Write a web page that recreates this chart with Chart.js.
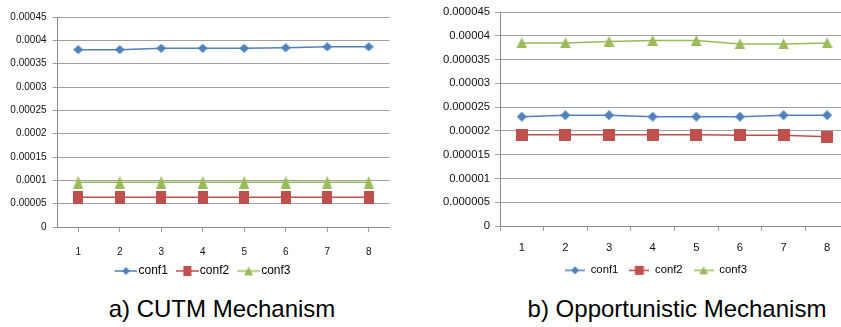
<!DOCTYPE html>
<html>
<head>
<meta charset="utf-8">
<script src="https://cdn.jsdelivr.net/npm/chart.js@4.4.1/dist/chart.umd.min.js"></script>
<style>
    body { margin: 0; background: #fff; width: 841px; height: 327px; overflow: hidden; position: relative; font-family: "Liberation Sans", Arial, sans-serif; }
    .box { position: absolute; top: 0; overflow: hidden; }
    #left { left: 0; width: 415px; height: 292px; }
    #right { left: 430px; width: 411px; height: 292px; }
    .cap { position: absolute; top: 297px; font-size: 24px; line-height: 24px; white-space: nowrap; color: #000; transform: translateX(-50%); }
</style>
</head>
<body>
<div class="box" id="left"><canvas id="cutm" width="396" height="287"></canvas></div>
<div class="box" id="right"><canvas id="opp" width="441" height="286"></canvas></div>
<div class="cap" style="left:222px">a) CUTM Mechanism</div>
<div class="cap" style="left:677px">b) Opportunistic Mechanism</div>
<script>
// two excel style line charts, side by side

const runs = ['1', '2', '3', '4', '5', '6', '7', '8'];
const seriesNames = ['conf1', 'conf2', 'conf3'];

// a) CUTM
const cutmConf1 = [0.000380, 0.000380, 0.000383, 0.000383, 0.000383, 0.000384, 0.000386, 0.000386];
const cutmConf2 = [0.000064, 0.000064, 0.000064, 0.000064, 0.000064, 0.000064, 0.000064, 0.000064];
const cutmConf3 = [0.000096, 0.000096, 0.000096, 0.000096, 0.000096, 0.000096, 0.000096, 0.000096];
const cutmYLabels = ['0', '0.00005', '0.0001', '0.00015', '0.0002', '0.00025', '0.0003', '0.00035', '0.0004', '0.00045'];

// b) Opportunistic
const oppConf1 = [0.0000230, 0.0000233, 0.0000233, 0.0000230, 0.0000230, 0.0000230, 0.0000233, 0.0000233];
const oppConf2 = [0.0000192, 0.0000192, 0.0000192, 0.0000192, 0.0000192, 0.0000191, 0.0000191, 0.0000188];
const oppConf3 = [0.0000385, 0.0000385, 0.0000388, 0.0000390, 0.0000390, 0.0000383, 0.0000383, 0.0000385];
const oppYLabels = ['0', '0.000005', '0.00001', '0.000015', '0.00002', '0.000025', '0.00003', '0.000035', '0.00004', '0.000045'];

const colors = ['#4F81BD', '#C0504D', '#9BBB59'];
const shapes = ['diamond', 'square', 'triangle'];
const gridColor = '#a0a0a0';
const axisColor = '#8c8c8c';

Chart.defaults.font.family = '"Liberation Sans", Arial, sans-serif';
Chart.defaults.animation = false;

function shapePath(g, shape, x, y, w, h) {
    g.beginPath();
    if (shape == 'diamond') {
        g.moveTo(x + w / 2, y);
        g.lineTo(x + w, y + h / 2);
        g.lineTo(x + w / 2, y + h);
        g.lineTo(x, y + h / 2);
    } else if (shape == 'square') {
        g.rect(x, y, w, h);
    } else {
        g.moveTo(x + w / 2, y);
        g.lineTo(x + w, y + h);
        g.lineTo(x, y + h);
    }
    g.closePath();
}

function marker(shape, w, h, color) {
    let c = document.createElement('canvas');
    c.width = w;
    c.height = h;
    let g = c.getContext('2d');
    g.fillStyle = color;
    shapePath(g, shape, 0, 0, w, h);
    g.fill();
    return c;
}

// line sample with the marker in the middle, like the excel legend
// (sx = where the sample starts inside the image, it is centred on the legend box)
function legendIcon(shape, imgW, sx, sw, mw, mh, color) {
    let c = document.createElement('canvas');
    c.width = imgW;
    c.height = mh + 2;
    let g = c.getContext('2d');
    g.strokeStyle = color;
    g.lineWidth = 1.5;
    g.beginPath();
    g.moveTo(sx, c.height / 2);
    g.lineTo(sx + sw, c.height / 2);
    g.stroke();
    g.fillStyle = color;
    shapePath(g, shape, sx + (sw - mw) / 2, 1, mw, mh);
    g.fill();
    return c;
}

function makeChart(id, values, yLabels, yMax, step, cfg) {
    let icons = [];
    let datasets = [];
    for (var i = 0; i < values.length; i++) {
        let m = cfg.markers[i];
        let im = cfg.iconMarkers[i];
        icons.push(legendIcon(shapes[i], cfg.icon[0], cfg.icon[1], cfg.icon[2], im[0], im[1], colors[i]));
        datasets.push({
            label: seriesNames[i],
            data: values[i],
            borderColor: colors[i],
            backgroundColor: colors[i],
            borderWidth: 1.5,
            tension: 0,
            pointRadius: 5,
            pointStyle: marker(shapes[i], m[0], m[1], colors[i])
        });
    }
    let font = { size: cfg.fontSize };
    let scales = {
        x: {
            offset: true,
            afterFit: function (s) { s.height = cfg.xHeight; },
            grid: { drawOnChartArea: false, tickLength: 5, color: gridColor, offset: cfg.gridOffset },
            border: { color: axisColor },
            ticks: { padding: cfg.xPad, color: '#111', font: font, maxRotation: 0 }
        },
        y: {
            min: 0,
            max: yMax,
            afterFit: function (s) { s.width = cfg.yWidth; },
            grid: { tickLength: 5, color: gridColor },
            border: { color: axisColor },
            ticks: {
                stepSize: step,
                padding: cfg.yPad,
                color: '#111',
                font: font,
                callback: function (v) {
                    let hit = yLabels.find(s => Math.abs(Number(s) - v) < step / 1000);
                    return hit === undefined ? '' : hit;
                }
            }
        }
    };
    if (cfg.rightGap > 0) {
        // empty box on the right, only there so the legend centres like the original
        scales.gap = {
            type: 'linear', position: 'right', display: true,
            grid: { display: false }, border: { display: false }, ticks: { display: false },
            afterFit: function (s) { s.width = cfg.rightGap; }
        };
    }
    return new Chart(document.getElementById(id), {
        type: 'line',
        data: { labels: runs, datasets: datasets },
        options: {
            responsive: false,
            layout: { padding: cfg.padding },
            scales: scales,
            plugins: {
                tooltip: { enabled: false },
                legend: {
                    position: 'bottom',
                    labels: {
                        usePointStyle: true,
                        pointStyleWidth: cfg.boxWidth,
                        padding: cfg.legendPad,
                        color: '#000',
                        font: { size: cfg.legendFont },
                        generateLabels: function (chart) {
                            let items = Chart.defaults.plugins.legend.labels.generateLabels(chart);
                            items.forEach((it, i) => { it.pointStyle = icons[i]; });
                            return items;
                        }
                    }
                }
            }
        }
    });
}

makeChart('cutm', [cutmConf1, cutmConf2, cutmConf3], cutmYLabels, 0.00045, 0.00005, {
    padding: { left: 10, right: 0, top: 17, bottom: 0 },
    yWidth: 47.5, yPad: 6, xHeight: 29, xPad: 14, gridOffset: false, rightGap: 0,
    fontSize: 10, legendFont: 12, legendPad: 9, boxWidth: 17, icon: [27, 4, 23],
    markers: [[10, 9], [10, 13], [10, 13]],
    iconMarkers: [[8, 8], [8, 10], [9, 9]]
});

makeChart('opp', [oppConf1, oppConf2, oppConf3], oppYLabels, 0.000045, 0.000005, {
    padding: { left: 11, right: 0, top: 12, bottom: 0 },
    yWidth: 59, yPad: 5, xHeight: 27.6, xPad: 10.5, gridOffset: true, rightGap: 22,
    fontSize: 11.3, legendFont: 11.3, legendPad: 11, boxWidth: 20, icon: [20, 0, 20],
    markers: [[10, 10], [12, 12], [11, 11]],
    iconMarkers: [[8, 8], [9, 9], [9, 8]]
});
</script>
</body>
</html>
